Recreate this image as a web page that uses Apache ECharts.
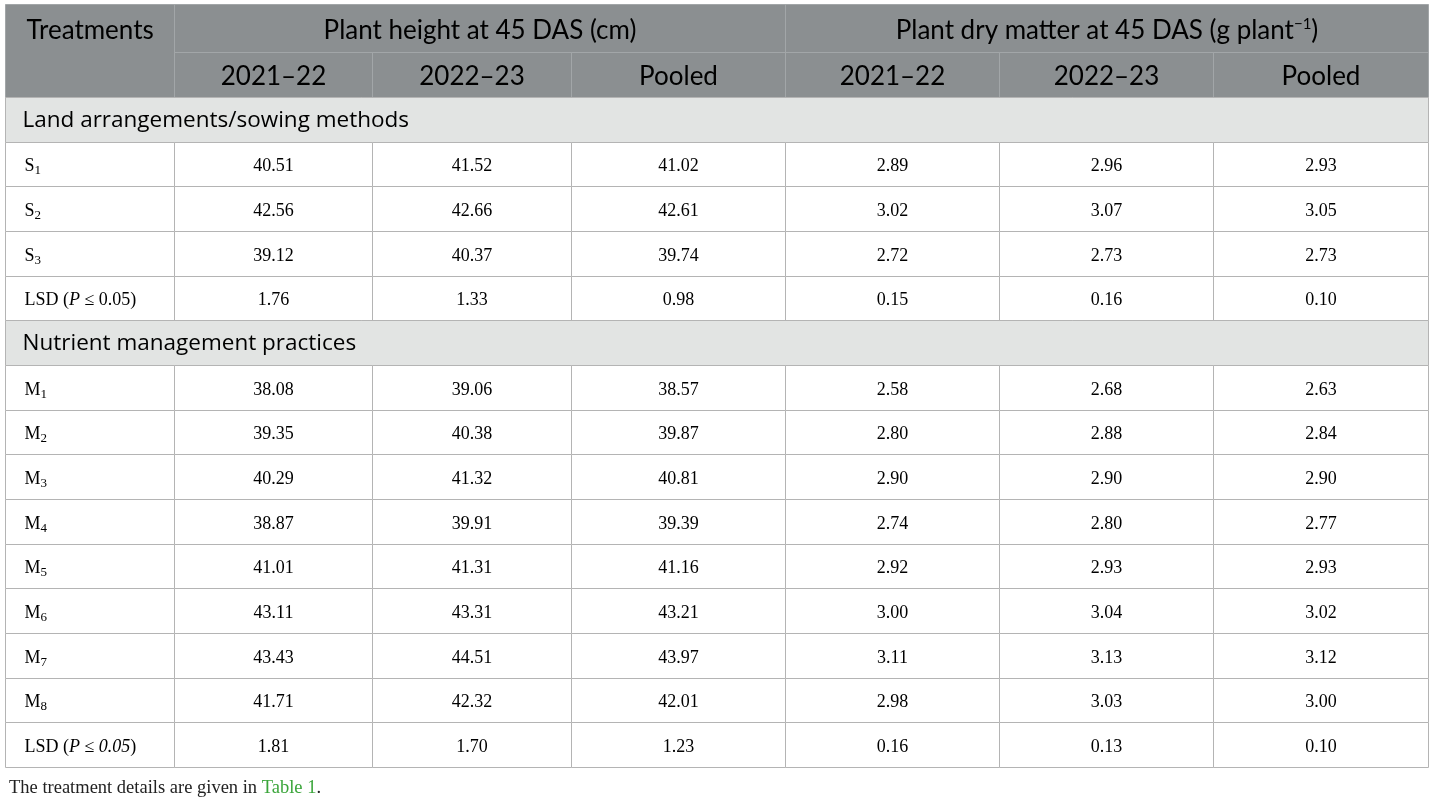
<!DOCTYPE html>
<html>
<head>
<meta charset="utf-8">
<script src="https://cdn.jsdelivr.net/npm/echarts@6/dist/echarts.min.js"></script>
<style>
html,body{margin:0;padding:0;background:#fff;}
#main{width:1434px;height:803px;}
</style>
</head>
<body>
<div id="main"></div>
<script>
// table content
var groupTitles = ['Plant height at 45 DAS (cm)', 'Plant dry matter at 45 DAS (g plant'];
var yearCols = ['2021\u201322', '2022\u201323', 'Pooled'];
var sections = ['Land arrangements/sowing methods', 'Nutrient management practices'];

var sowingLabels = ['S1', 'S2', 'S3'];
var sowingHeight2122 = [40.51, 42.56, 39.12];
var sowingHeight2223 = [41.52, 42.66, 40.37];
var sowingHeightPooled = [41.02, 42.61, 39.74];
var sowingDry2122 = [2.89, 3.02, 2.72];
var sowingDry2223 = [2.96, 3.07, 2.73];
var sowingDryPooled = [2.93, 3.05, 2.73];
var sowingLsd = [1.76, 1.33, 0.98, 0.15, 0.16, 0.10];

var nutrientLabels = ['M1', 'M2', 'M3', 'M4', 'M5', 'M6', 'M7', 'M8'];
var nutrientHeight2122 = [38.08, 39.35, 40.29, 38.87, 41.01, 43.11, 43.43, 41.71];
var nutrientHeight2223 = [39.06, 40.38, 41.32, 39.91, 41.31, 43.31, 44.51, 42.32];
var nutrientHeightPooled = [38.57, 39.87, 40.81, 39.39, 41.16, 43.21, 43.97, 42.01];
var nutrientDry2122 = [2.58, 2.80, 2.90, 2.74, 2.92, 3.00, 3.11, 2.98];
var nutrientDry2223 = [2.68, 2.88, 2.90, 2.80, 2.93, 3.04, 3.13, 3.03];
var nutrientDryPooled = [2.63, 2.84, 2.90, 2.77, 2.93, 3.02, 3.12, 3.00];
var nutrientLsd = [1.81, 1.70, 1.23, 0.16, 0.13, 0.10];

// layout (pixels in table space)
var colW = [169, 198, 199, 214, 214, 214, 215];
var headH = [48, 45];
var rowH = 44.67;
var tableW = 1423, tableH = 764;

var colX = [0];
colW.forEach(function (w, i) { colX.push(colX[i] + w); });

var headBg = '#8b8f91', headLine = '#a2a6a8', secBg = '#e2e4e3', bodyLine = '#b4b4b4';
var headFont = 'Lato, "Open Sans", sans-serif';
var sans = '"Open Sans", "Noto Sans", sans-serif';
var serif = '"Liberation Serif", "DejaVu Serif", serif';

var rich = {
  h: {fontFamily: headFont, fontSize: 26, color: '#f7f7f7'},
  hs: {fontFamily: headFont, fontSize: 15, color: '#f7f7f7', verticalAlign: 'top', padding: [0, 0, 13, 0]},
  s: {fontFamily: sans, fontSize: 22.5, color: '#222'},
  n: {fontFamily: serif, fontSize: 18, color: '#111'},
  i: {fontFamily: serif, fontSize: 18, color: '#111', fontStyle: 'italic'},
  sub: {fontFamily: serif, fontSize: 13, color: '#111', padding: [9, 0, 0, 0]}
};

var cells = [];
function addCell(c0, c1, y0, y1, kind, text, align) {
  cells.push({x0: colX[c0], x1: colX[c1], y0: y0, y1: y1, kind: kind, text: text, align: align || 'center'});
}
function subLabel(t) {
  return '{n|' + t.charAt(0) + '}{sub|' + t.slice(1) + '}';
}

var y = 0;
addCell(0, 1, 0, headH[0] + headH[1], 'head', '{h|Treatments}', 'left-top');
addCell(1, 4, 0, headH[0], 'head', '{h|' + groupTitles[0] + '}');
addCell(4, 7, 0, headH[0], 'head', '{h|' + groupTitles[1] + '}{hs|\u22121}{h|)}');
y = headH[0];
for (var k = 0; k < 6; k++) {
  addCell(k + 1, k + 2, y, y + headH[1], 'head', '{h|' + yearCols[k % 3] + '}');
}
y += headH[1];

function addBlock(title, labels, cols, lsd, lsdText) {
  addCell(0, 7, y, y + rowH, 'sec', '{s|' + title + '}', 'left');
  y += rowH;
  labels.forEach(function (lab, r) {
    addCell(0, 1, y, y + rowH, 'body', subLabel(lab), 'left');
    cols.forEach(function (arr, c) {
      addCell(c + 1, c + 2, y, y + rowH, 'body', '{n|' + arr[r].toFixed(2) + '}');
    });
    y += rowH;
  });
  addCell(0, 1, y, y + rowH, 'body', lsdText, 'left');
  lsd.forEach(function (v, c) {
    addCell(c + 1, c + 2, y, y + rowH, 'body', '{n|' + v.toFixed(2) + '}');
  });
  y += rowH;
}
addBlock(sections[0], sowingLabels,
  [sowingHeight2122, sowingHeight2223, sowingHeightPooled, sowingDry2122, sowingDry2223, sowingDryPooled],
  sowingLsd, '{n|LSD (}{i|P}{n| \u2264 0.05)}');
addBlock(sections[1], nutrientLabels,
  [nutrientHeight2122, nutrientHeight2223, nutrientHeightPooled, nutrientDry2122, nutrientDry2223, nutrientDryPooled],
  nutrientLsd, '{n|LSD (}{i|P}{n| \u2264 }{i|0.05}{n|)}');

var cellData = cells.map(function (c, i) { return [c.x0, c.x1, c.y0, c.y1, i]; });

function renderCell(params, api) {
  var c = cells[api.value(4)];
  var p0 = api.coord([api.value(0), api.value(2)]);
  var p1 = api.coord([api.value(1), api.value(3)]);
  var x0 = Math.round(p0[0]) + 0.5, y0 = Math.round(p0[1]) + 0.5;
  var x1 = Math.round(p1[0]) + 0.5, y1 = Math.round(p1[1]) + 0.5;
  var fill = c.kind === 'head' ? headBg : (c.kind === 'sec' ? secBg : '#fff');
  var stroke = c.kind === 'head' ? headLine : bodyLine;
  var dy = c.kind === 'head' ? 2 : (c.kind === 'sec' ? 1 : 2);
  var tx, ty, align = 'center';
  if (c.align === 'center') {
    tx = (x0 + x1) / 2; ty = (y0 + y1) / 2 + dy;
  } else if (c.align === 'left-top') {
    tx = x0 + 21; ty = y0 + headH[0] / 2 + dy; align = 'left';
  } else {
    tx = x0 + (c.kind === 'sec' ? 17 : 19); ty = (y0 + y1) / 2 + dy; align = 'left';
  }
  return {
    type: 'group',
    children: [
      {type: 'rect', shape: {x: x0, y: y0, width: x1 - x0, height: y1 - y0},
        style: {fill: fill, stroke: stroke, lineWidth: 1}},
      {type: 'text', x: tx, y: ty,
        style: {text: c.text, rich: rich, align: align, verticalAlign: 'middle'}}
    ]
  };
}

var myChart = echarts.init(document.getElementById('main'));
myChart.setOption({
  animation: false,
  title: {
    text: '{a|The treatment details are given in }{g|Table 1}{a|.}',
    left: 4,
    top: 774,
    textStyle: {
      fontWeight: 'normal',
      rich: {
        a: {fontFamily: serif, fontSize: 18.5, fontWeight: 'normal', color: '#222'},
        g: {fontFamily: serif, fontSize: 18.5, fontWeight: 'normal', color: '#3aa53a'}
      }
    }
  },
  grid: {left: 5, top: 4, width: tableW, height: tableH},
  xAxis: {type: 'value', min: 0, max: tableW, show: false},
  yAxis: {type: 'value', min: 0, max: tableH, inverse: true, show: false},
  series: [{
    type: 'custom',
    renderItem: renderCell,
    data: cellData,
    clip: false
  }]
});
</script>
</body>
</html>
